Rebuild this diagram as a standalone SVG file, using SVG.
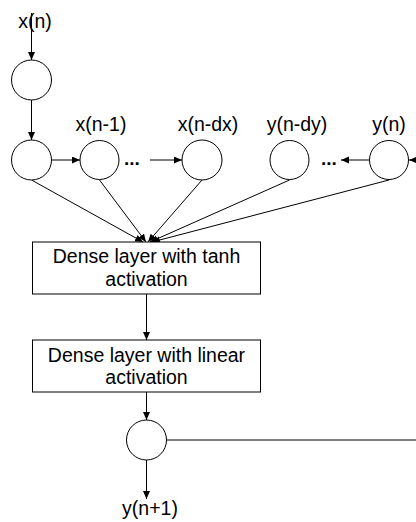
<svg xmlns="http://www.w3.org/2000/svg" width="416" height="522" viewBox="0 0 416 522">
  <style>
    .node { fill: #ffffff; stroke: #000000; stroke-width: 1; }
    .lbl { font-family: "Liberation Sans", Arial, sans-serif; font-size: 19.5px; fill: #000000; text-anchor: middle; }
    .dots { font-family: "Liberation Sans", Arial, sans-serif; font-size: 19px; font-weight: bold; fill: #000000; }
    .edge { fill: none; stroke: #000000; stroke-width: 1; }
  </style>
  <defs>
    <marker id="arrow" markerUnits="userSpaceOnUse" markerWidth="10" markerHeight="8" refX="8" refY="3.5" orient="auto">
      <path d="M0,0 L8,3.5 L0,7 Z" fill="#000000"/>
    </marker>
  </defs>

  <rect width="416" height="522" fill="#ffffff"/>

  <!-- connectors -->
  <g id="connectors">
    <line class="edge" x1="31.5" y1="13" x2="31.5" y2="60" marker-end="url(#arrow)"/>
    <line class="edge" x1="31.5" y1="100" x2="31.5" y2="140" marker-end="url(#arrow)"/>
    <line class="edge" x1="52" y1="160" x2="80" y2="160" marker-end="url(#arrow)"/>
    <line class="edge" x1="150" y1="160" x2="182" y2="160" marker-end="url(#arrow)"/>
    <line class="edge" x1="369" y1="160" x2="341" y2="160" marker-end="url(#arrow)"/>
    <line class="edge" x1="418" y1="160" x2="409" y2="160" marker-end="url(#arrow)"/>
    <!-- inputs into the tanh layer -->
    <line class="edge" x1="31.5" y1="180" x2="143" y2="242" marker-end="url(#arrow)"/>
    <line class="edge" x1="99.5" y1="180" x2="146" y2="242" marker-end="url(#arrow)"/>
    <line class="edge" x1="202" y1="180" x2="148" y2="242" marker-end="url(#arrow)"/>
    <line class="edge" x1="289.5" y1="180" x2="150" y2="242" marker-end="url(#arrow)"/>
    <line class="edge" x1="389" y1="180" x2="152" y2="242" marker-end="url(#arrow)"/>
    <!-- layer chain -->
    <line class="edge" x1="146.5" y1="294" x2="146.5" y2="340" marker-end="url(#arrow)"/>
    <line class="edge" x1="146.5" y1="392" x2="146.5" y2="420" marker-end="url(#arrow)"/>
    <line class="edge" x1="146.5" y1="460" x2="146.5" y2="499" marker-end="url(#arrow)"/>
    <!-- feedback to y(n) -->
    <line class="edge" x1="166.5" y1="440" x2="418" y2="440"/>
  </g>

  <g id="input">
    <text class="lbl" x="35" y="28">x(n)</text>
  </g>
  <g id="buffer">
    <circle class="node" cx="31.5" cy="80" r="20"/>
  </g>
  <g id="x0">
    <circle class="node" cx="31.5" cy="160" r="20"/>
  </g>
  <g id="x1">
    <circle class="node" cx="99.5" cy="160" r="19.5"/>
    <text class="lbl" x="101" y="131">x(n-1)</text>
  </g>
  <g id="x-ellipsis">
    <text class="dots" x="124" y="165">...</text>
  </g>
  <g id="xdx">
    <circle class="node" cx="202" cy="160" r="20"/>
    <text class="lbl" x="208" y="131">x(n-dx)</text>
  </g>
  <g id="ydy">
    <circle class="node" cx="289.5" cy="160" r="19.5"/>
    <text class="lbl" x="297" y="131">y(n-dy)</text>
  </g>
  <g id="y-ellipsis">
    <text class="dots" x="321" y="165">...</text>
  </g>
  <g id="y0">
    <circle class="node" cx="389" cy="160" r="19.5"/>
    <text class="lbl" x="389" y="131">y(n)</text>
  </g>
  <g id="tanh-layer">
    <rect class="node" x="32.5" y="242" width="228" height="52"/>
    <text class="lbl" x="146.5" y="263">Dense layer with tanh</text>
    <text class="lbl" x="146.5" y="286">activation</text>
  </g>
  <g id="linear-layer">
    <rect class="node" x="32.5" y="340" width="228" height="52"/>
    <text class="lbl" x="146.5" y="362">Dense layer with linear</text>
    <text class="lbl" x="146.5" y="384">activation</text>
  </g>
  <g id="output-node">
    <circle class="node" cx="146.5" cy="440" r="20"/>
  </g>
  <g id="output">
    <text class="lbl" x="150" y="515">y(n+1)</text>
  </g>
</svg>
